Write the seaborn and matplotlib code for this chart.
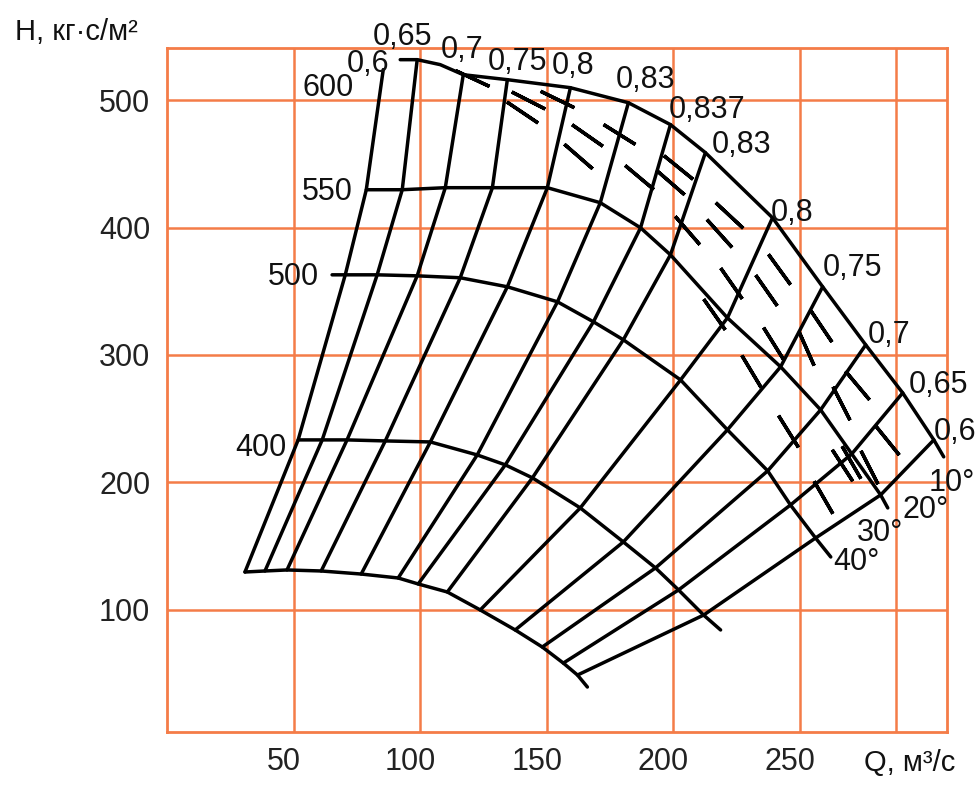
import matplotlib
matplotlib.use('Agg')
import matplotlib.pyplot as plt
from matplotlib.transforms import ScaledTranslation
import seaborn as sns

# efficiency rays, left to right (0,6 ... 0,837 ... 0,6)
# each ray: points on bottom curve, 400, 500, 550 and 600 curves
RAY_Q = [
    [30.8, 51.8, 70.4, 78.7, 85.4],
    [38.7, 61.3, 83.0, 92.9, 98.8],
    [47.4, 71.1, 98.8, 109.9, 117.0],
    [60.9, 86.2, 115.8, 128.5, 134.4],
    [76.7, 104.0, 134.4, 150.2, 159.3],
    [91.3, 122.5, 154.2, 171.1, 182.2],
    [99.2, 133.6, 168.4, 187.0, 198.8],
    [110.7, 144.3, 180.2, 198.8, 212.6],
    [123.7, 163.2, 202.8, 221.3, 239.1],
    [137.5, 180.2, 221.3, 242.3, 258.9],
    [148.2, 192.9, 237.2, 258.1, 275.9],
    [156.5, 202.0, 246.2, 270.4, 290.5],
    [162.1, 211.9, 256.1, 281.8, 302.8],
]
RAY_H = [
    [129.6, 233.3, 362.9, 429.7, 524.0],
    [130.4, 233.3, 362.9, 429.7, 531.8],
    [131.2, 233.3, 362.1, 431.3, 520.0],
    [130.4, 232.5, 360.6, 431.3, 516.1],
    [128.0, 231.7, 353.5, 431.3, 509.8],
    [124.9, 221.5, 341.7, 419.5, 498.0],
    [120.2, 213.7, 326.0, 399.8, 480.8],
    [113.9, 203.5, 311.9, 378.6, 458.8],
    [99.8, 179.9, 280.4, 329.1, 407.7],
    [84.1, 153.2, 241.2, 290.7, 353.5],
    [70.7, 132.8, 209.0, 256.9, 307.9],
    [58.1, 115.5, 182.2, 222.3, 270.2],
    [48.7, 95.8, 156.3, 190.1, 233.3],
]

# rpm curves (H-Q)
BOTTOM_Q = [30.8, 38.7, 47.4, 60.9, 76.7, 91.3, 99.2, 110.7, 123.7, 137.5, 148.2, 156.5, 162.1, 166.0]
BOTTOM_H = [129.6, 130.4, 131.2, 130.4, 128.0, 124.9, 120.2, 113.9, 99.8, 84.1, 70.7, 58.1, 48.7, 39.3]
N400_Q = [51.8, 61.3, 71.1, 86.2, 104.0, 122.5, 133.6, 144.3, 163.2, 180.2, 192.9, 202.0, 211.9, 218.6]
N400_H = [233.3, 233.3, 233.3, 232.5, 231.7, 221.5, 213.7, 203.5, 179.9, 153.2, 132.8, 115.5, 95.8, 84.1]
N500_Q = [65.2, 70.4, 83.0, 98.8, 115.8, 134.4, 154.2, 168.4, 180.2, 202.8, 221.3, 237.2, 246.2, 256.1, 262.1]
N500_H = [362.9, 362.9, 362.9, 362.1, 360.6, 353.5, 341.7, 326.0, 311.9, 280.4, 241.2, 209.0, 182.2, 156.3, 141.4]
N550_Q = [78.7, 92.9, 109.9, 128.5, 150.2, 171.1, 187.0, 198.8, 221.3, 242.3, 258.1, 270.4, 281.8, 284.6]
N550_H = [429.7, 429.7, 431.3, 431.3, 431.3, 419.5, 399.8, 378.6, 329.1, 290.7, 256.9, 222.3, 190.1, 179.9]
N600_Q = [92.1, 98.8, 107.9, 117.0, 134.4, 159.3, 182.2, 198.8, 212.6, 239.1, 258.9, 275.9, 290.5, 302.8, 306.7]
N600_H = [531.8, 531.8, 527.9, 520.0, 516.1, 509.8, 498.0, 480.8, 458.8, 407.7, 353.5, 307.9, 270.2, 233.3, 220.0]

# hatch ticks: centre and slope (deg below horizontal)
DASH_Q = [142.7, 153.9, 140.1, 165.8, 162.3, 178.3, 186.2, 198.8, 201.8, 205.5, 217.8, 222.1,
          222.9, 236.4, 241.5, 215.8, 239.1, 230.8, 252.2, 258.1, 272.3, 266.0, 245.1, 266.4,
          277.1, 284.2, 258.9, 270.0, 120.6]
DASH_H = [500.4, 500.8, 490.6, 472.9, 456.0, 473.7, 439.5, 436.0, 447.4, 398.3, 395.5, 410.1,
          356.6, 351.1, 367.6, 332.3, 309.5, 287.5, 305.6, 322.9, 276.5, 262.4, 240.4, 213.7,
          212.1, 233.3, 188.5, 216.0, 517.7]
DASH_ANG = [27, 26, 34, 35, 41, 32, 40, 41, 39, 49, 48, 43,
            55, 55, 54, 55, 58, 59, 66, 56, 50, 63, 58, 57,
            63, 51, 60, 60, 25]

# labels
ETA_TXT = ['0,6', '0,65', '0,7', '0,75', '0,8', '0,83', '0,837', '0,83', '0,8', '0,75', '0,7', '0,65', '0,6']
ETA_Q = [79.4, 92.9, 116.6, 138.3, 160.5, 188.9, 213.4, 226.9, 247.0, 270.8, 285.0, 304.7, 311.0]
ETA_H = [528.7, 549.9, 539.7, 530.2, 527.1, 516.1, 492.5, 465.0, 411.6, 368.4, 315.8, 276.5, 239.6]
RPM_TXT = ['600', '550', '500', '400']
RPM_Q = [63.6, 63.2, 49.8, 37.2]
RPM_H = [509.8, 428.1, 361.3, 227.0]
ANG_TXT = ['10°', '20°', '30°', '40°']
ANG_Q = [309.8, 299.6, 281.4, 272.3]
ANG_H = [199.5, 178.3, 160.3, 137.5]

X_TICKS = [50, 100, 150, 200, 250]
Y_TICKS = [100, 200, 300, 400, 500]

GRID = '#f47c48'
LW = 2.5

sns.set_theme(style='white')
plt.rcParams['font.family'] = ['Liberation Sans', 'DejaVu Sans']

fig = plt.figure(figsize=(9.77, 7.94), dpi=100)
ax = fig.add_axes([0.1709, 0.0781, 0.7984, 0.8615])
ax.set_xlim(0, 308)
ax.set_ylim(4, 541)

ax.set_xticks(X_TICKS)
ax.set_yticks(Y_TICKS)
ax.grid(True, color=GRID, linewidth=1.8)
ax.axvline(288, color=GRID, linewidth=1.8)
for sp in ax.spines.values():
    sp.set_color(GRID)
    sp.set_linewidth(2)
ax.tick_params(axis='both', length=0, labelsize=22, colors='#222222')
ax.tick_params(axis='y', pad=12)
ax.tick_params(axis='x', pad=11)
shift = ScaledTranslation(-10 / 100, 0, fig.dpi_scale_trans)
for lbl in ax.get_xticklabels():
    lbl.set_transform(lbl.get_transform() + shift)

# curves
for q, h in [(BOTTOM_Q, BOTTOM_H), (N400_Q, N400_H), (N500_Q, N500_H),
             (N550_Q, N550_H), (N600_Q, N600_H)]:
    sns.lineplot(x=q, y=h, sort=False, estimator=None, color='black', linewidth=LW, ax=ax)
for q, h in zip(RAY_Q, RAY_H):
    sns.lineplot(x=q, y=h, sort=False, estimator=None, color='black', linewidth=LW, ax=ax)

for q, h, a in zip(DASH_Q, DASH_H, DASH_ANG):
    ax.plot([q], [h], ls='none', marker=(2, 2, 90 - a), ms=27, mew=LW, color='black')

txt = dict(fontsize=22, ha='center', va='center', color='#111111', clip_on=False)
for t, q, h in zip(ETA_TXT, ETA_Q, ETA_H):
    ax.text(q, h, t, **txt)
for t, q, h in zip(RPM_TXT, RPM_Q, RPM_H):
    ax.text(q, h, t, **txt)
for t, q, h in zip(ANG_TXT, ANG_Q, ANG_H):
    ax.text(q, h, t, **txt)

ax.set_xlabel('')
ax.set_ylabel('')
fig.text(15 / 977, 1 - 32 / 794, 'H, кг·с/м²', fontsize=21, ha='left', va='center', color='#111111')
fig.text(955 / 977, 1 - 763 / 794, 'Q, м³/с', fontsize=21, ha='right', va='center', color='#111111')

fig.savefig('out.png', dpi=100)
